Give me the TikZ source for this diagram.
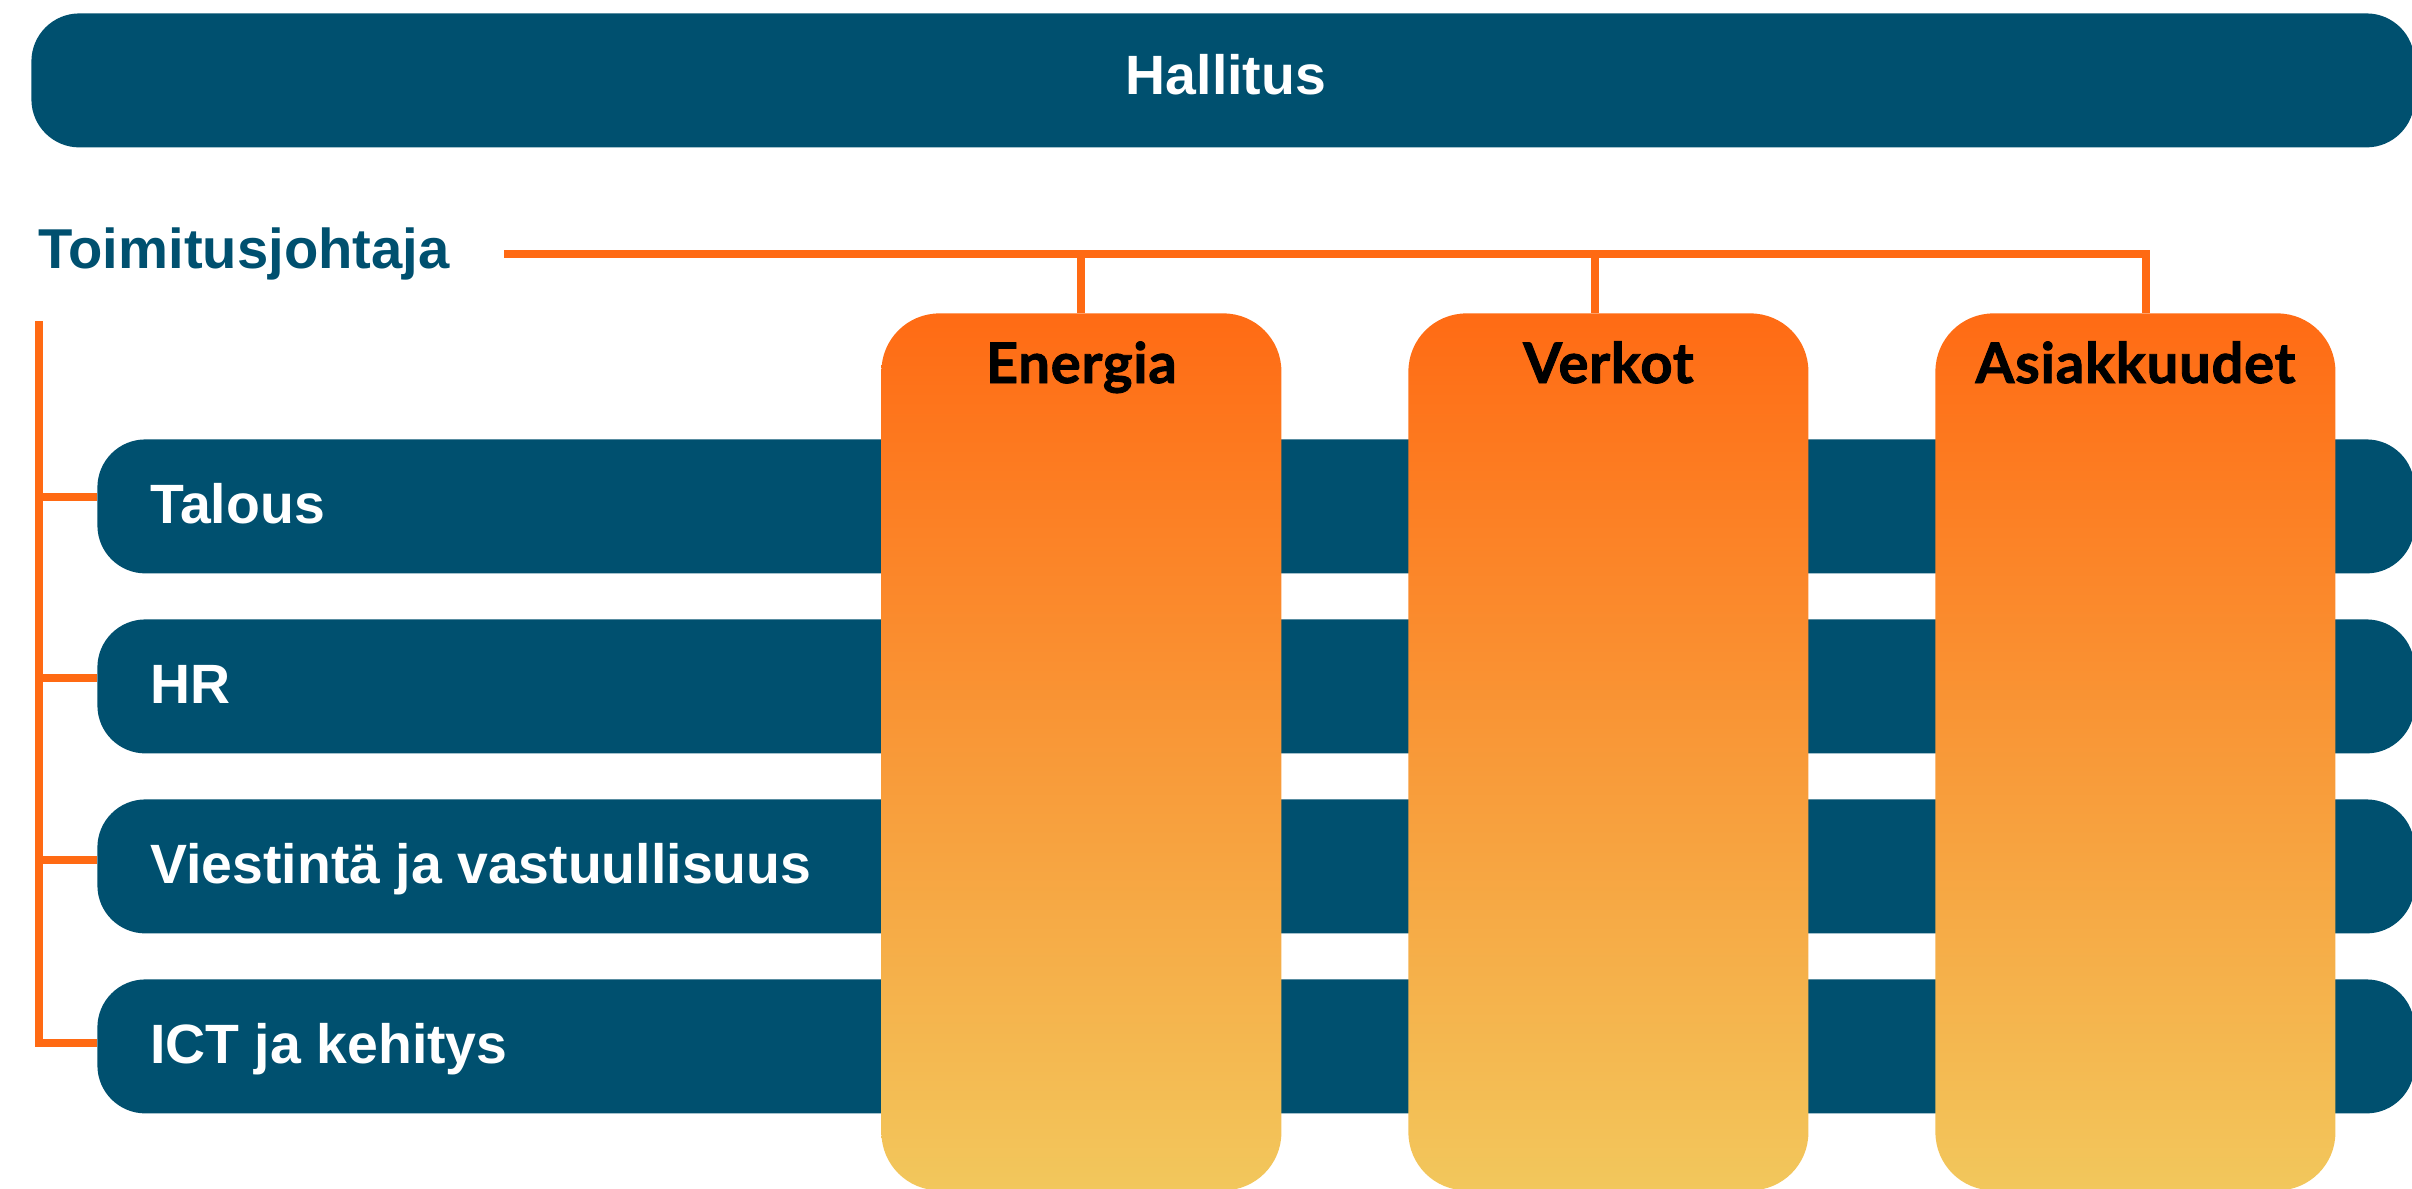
\documentclass[tikz,border=0pt]{standalone}
\usepackage{fontspec}
\setmainfont{Liberation Sans}
\newfontfamily\colfont[BoldFeatures={FakeBold=1.6}, LetterSpace=1.5]{Lato}
\definecolor{navy}{RGB}{0,80,111}
\definecolor{lineor}{RGB}{255,106,19}
\definecolor{gradtop}{RGB}{255,107,20}
\definecolor{gradbot}{RGB}{242,199,92}
\begin{document}
\begin{tikzpicture}[x=0.5pt,y=-0.5pt,
  bar/.style={fill=navy, draw=none, rounded corners=24pt, inner sep=0pt, anchor=north west, minimum height=67pt},
  rowbar/.style={bar, minimum width=1158.5pt},
  colbox/.style={draw=none, rounded corners=29pt, inner sep=0pt, anchor=north west,
    minimum width=200pt, minimum height=438.5pt, top color=gradtop, bottom color=gradbot},
  wlabel/.style={text=white, font=\fontsize{27.7pt}{30pt}\selectfont\bfseries, inner sep=0pt},
  collabel/.style={text=black, font=\fontsize{28pt}{30pt}\colfont\bfseries, inner sep=0pt, anchor=base},
  conn/.style={draw=lineor, line width=4pt}
]
\useasboundingbox (0,0) rectangle (2412,1188);
\clip (0,0) rectangle (2412,1188);

% board
\node[bar, minimum width=1191.5pt] (hallitus) at (31,13) {};
\node[wlabel, anchor=base] (hallitusL) at (1226,95) {Hallitus};

% CEO
\node[text=navy, font=\fontsize{28.1pt}{30pt}\selectfont\bfseries, inner sep=0pt, anchor=base west] (tj) at (38,268) {Toimitusjohtaja};

% rows
\node[rowbar] (talous) at (97,439) {};
\node[rowbar] (hr) at (97,619) {};
\node[rowbar] (vie) at (97,799) {};
\node[rowbar] (ict) at (97,979) {};
\node[wlabel, anchor=base west] (talousL) at (150,523) {Talous};
\node[wlabel, anchor=base west] (hrL) at (150,703) {HR};
\node[wlabel, anchor=base west] (vieL) at (150,883) {Viestintä ja vastuullisuus};
\node[wlabel, anchor=base west] (ictL) at (150,1063) {ICT ja kehitys};

% columns
\node[colbox] (ene) at (881,313) {};
\node[colbox] (ver) at (1408,313) {};
\node[colbox] (asi) at (1935,313) {};
\node[collabel] (eneL) at (ene.north |- 0,383) {Energia};
\node[collabel] (verL) at (ver.north |- 0,383) {Verkot};
\node[collabel] (asiL) at (asi.north |- 0,383) {Asiakkuudet};

% connectors
\coordinate (tjend) at (504,254);
\draw[conn] (tjend) -| ([xshift=5.5pt]asi.north);
\draw[conn] (ene.north |- tjend) -- (ene.north);
\draw[conn] ([xshift=-6.5pt]ver.north |- tjend) -- ([xshift=-6.5pt]ver.north);

\coordinate (spinetop) at (39,321);
\draw[conn] (spinetop) |- ([yshift=1.5pt]ict.west);
\draw[conn] ([yshift=4.5pt]talous.west -| spinetop) -- ([yshift=4.5pt]talous.west);
\draw[conn] ([yshift=4pt]hr.west -| spinetop) -- ([yshift=4pt]hr.west);
\draw[conn] ([yshift=3pt]vie.west -| spinetop) -- ([yshift=3pt]vie.west);
\end{tikzpicture}
\end{document}
